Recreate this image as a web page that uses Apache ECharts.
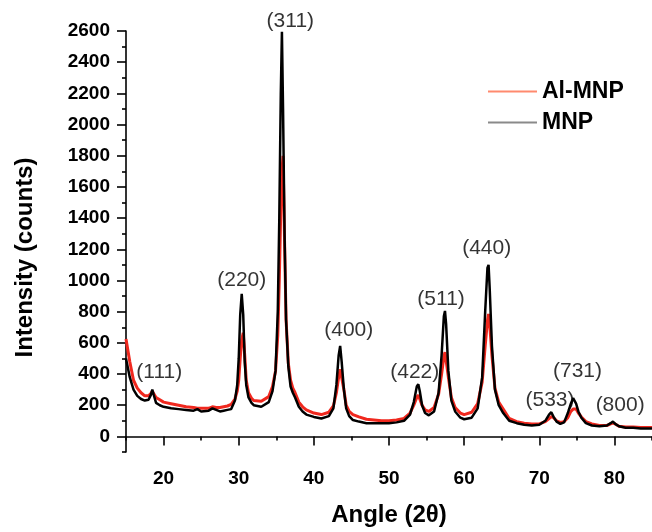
<!DOCTYPE html>
<html><head><meta charset="utf-8">
<script src="https://cdn.jsdelivr.net/npm/echarts@6/dist/echarts.min.js"></script>
<style>html,body{margin:0;padding:0;background:#fff}#c{width:652px;height:532px}</style>
</head><body><div id="c"></div>
<script>
const angle = [15,15.5,16,16.5,17,17.5,18,18.3,18.5,18.7,19,19.5,20,21,22,23,24,24.5,25,26,26.5,27,27.5,28,28.5,29,29.5,29.8,30.0,30.2,30.4,30.6,30.8,31.0,31.3,31.7,32,33,34,34.5,34.9,35.2,35.4,35.6,35.75,35.9,36.1,36.3,36.6,36.9,37.2,37.5,38,38.5,39,40,41,42,42.6,43.0,43.3,43.5,43.7,44.0,44.3,44.7,45.2,46,47,48,49,50,51,52,52.8,53.3,53.7,53.9,54.1,54.4,54.8,55.3,56,56.6,57.0,57.3,57.45,57.6,57.9,58.3,58.8,59.5,60,61,61.8,62.4,62.8,63.1,63.25,63.4,63.7,64.1,64.6,65.2,66,67,68,69,70,70.8,71.3,71.6,71.9,72.3,72.8,73.3,73.8,74.2,74.5,74.7,74.9,75.2,75.6,76.2,77,78,79,79.5,79.8,80.1,80.6,81.5,82.5,83.5,85];
const mnp = [500,380,300,260,240,230,235,265,300,265,215,200,190,180,175,170,165,175,160,165,180,170,160,165,170,175,230,330,500,780,915,780,480,330,250,215,200,190,220,290,420,800,1400,2200,2595,2100,1300,750,450,320,280,250,190,160,140,125,115,130,180,330,520,580,480,300,180,130,105,95,85,85,85,85,90,100,140,220,320,335,290,200,150,135,160,280,520,770,805,720,420,230,160,120,110,120,180,380,800,1080,1100,950,580,300,200,150,100,85,75,70,75,100,140,155,125,95,80,90,150,210,245,240,210,160,120,85,70,65,70,85,95,80,65,55,55,50,50];
const alMnp = [625,480,360,310,280,260,260,275,290,280,250,235,220,210,200,190,185,180,180,180,190,185,185,190,195,205,240,290,360,500,620,665,520,360,280,245,230,225,255,320,420,650,1000,1450,1700,1800,1250,750,470,360,310,280,220,190,170,150,140,155,195,280,380,430,420,300,200,160,140,125,110,105,100,100,105,115,150,200,250,265,255,200,170,160,185,270,400,510,540,530,380,250,185,150,140,155,210,350,580,740,785,720,520,310,220,175,115,95,85,80,80,95,115,127,120,100,90,95,120,160,175,180,175,150,125,95,80,70,70,80,85,80,65,60,60,57,57];
const xTicks = [20,30,40,50,60,70,80];
const xMinorTicks = [15,25,35,45,55,65,75,85];
const yTicks = [0,200,400,600,800,1000,1200,1400,1600,1800,2000,2200,2400,2600];
const yMinorTicks = [-100,100,300,500,700,900,1100,1300,1500,1700,1900,2100,2300,2500];
const peakNames = ['(111)','(220)','(311)','(400)','(422)','(511)','(440)','(533)','(731)','(800)'];
const peakX = [19.43,30.4,36.87,44.64,53.43,56.93,63.0,71.43,75.09,80.76];
const peakY = [413,1004,2664,683,413,877,1208,235,420,203];

const FF = '"Liberation Sans", Arial, sans-serif';
const pair = (xs, ys) => xs.map((x, i) => [x, ys[i]]);
const chart = echarts.init(document.getElementById('c'), null, {renderer: 'canvas'});
const axisLine = {show: true, lineStyle: {color: '#000', width: 1.6}};
chart.setOption({
  animation: false,
  backgroundColor: '#fff',
  grid: {left: 126, right: 0, top: 31, bottom: 76, containLabel: false},
  legend: {
    orient: 'vertical', left: 483, top: 75, itemWidth: 49, itemHeight: 2, itemGap: 8,
    icon: 'rect',
    textStyle: {fontSize: 23, fontWeight: 'bold', color: '#000', fontFamily: FF, lineHeight: 22},
    data: [
      {name: 'Al-MNP', itemStyle: {color: '#ff8a6e'}},
      {name: 'MNP', itemStyle: {color: '#8a8a8a'}}
    ]
  },
  xAxis: [{
    type: 'value', min: 15, max: 85, position: 'bottom',
    axisLine: axisLine,
    axisTick: {show: true, customValues: xTicks, length: 9, inside: false, lineStyle: {color: '#000', width: 1.6}},
    axisLabel: {customValues: xTicks, fontSize: 19, fontWeight: 'bold', color: '#000', fontFamily: FF, margin: 17,
                formatter: v => String(v)},
    splitLine: {show: false},
    name: 'Angle (2θ)', nameLocation: 'middle', nameGap: 51,
    nameTextStyle: {fontSize: 24, fontWeight: 'bold', color: '#000', fontFamily: FF}
  }, {
    type: 'value', min: 15, max: 85, position: 'bottom', offset: 0,
    axisLine: {show: false},
    axisTick: {show: true, customValues: xMinorTicks, length: 4, inside: false, lineStyle: {color: '#000', width: 1.6}},
    axisLabel: {show: false},
    splitLine: {show: false}
  }],
  yAxis: [{
    type: 'value', min: -100, max: 2600, position: 'left',
    axisLine: axisLine,
    axisTick: {show: true, customValues: yTicks, length: 9, inside: false, lineStyle: {color: '#000', width: 1.6}},
    axisLabel: {customValues: yTicks, fontSize: 19, fontWeight: 'bold', color: '#000', fontFamily: FF, margin: 16,
                formatter: v => String(v)},
    splitLine: {show: false},
    name: 'Intensity (counts)', nameLocation: 'middle', nameGap: 89,
    nameTextStyle: {fontSize: 24, fontWeight: 'bold', color: '#000', fontFamily: FF, padding: [0, 32, 0, 0]}
  }, {
    type: 'value', min: -100, max: 2600, position: 'left', offset: 0,
    axisLine: {show: false},
    axisTick: {show: true, customValues: yMinorTicks, length: 4, inside: false, lineStyle: {color: '#000', width: 1.6}},
    axisLabel: {show: false},
    splitLine: {show: false}
  }],
  series: [
    {name: 'Al-MNP', type: 'line', data: pair(angle, alMnp), showSymbol: false, symbol: 'none',
     lineStyle: {color: '#f0281e', width: 3}, itemStyle: {color: '#f0281e'}, z: 2},
    {name: 'MNP', type: 'line', data: pair(angle, mnp), showSymbol: false, symbol: 'none',
     lineStyle: {color: '#000', width: 2.5}, itemStyle: {color: '#000'}, z: 3},
    {name: 'labels', type: 'scatter', clip: false, silent: true, symbolSize: 1,
     itemStyle: {color: 'rgba(0,0,0,0)'},
     data: peakNames.map((n, i) => [peakX[i], peakY[i], n]),
     label: {show: true, position: 'inside', formatter: p => p.value[2], fontSize: 21, color: '#000', fontFamily: FF},
     z: 5}
  ]
});
</script></body></html>
